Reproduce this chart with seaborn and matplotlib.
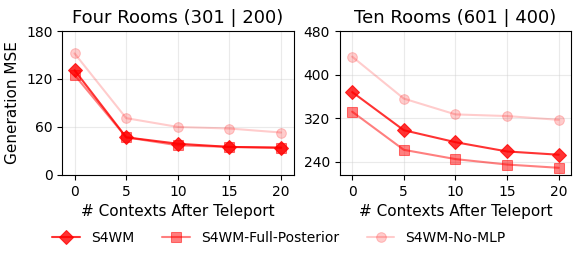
import numpy as np
import pandas as pd
import matplotlib
matplotlib.use("Agg")
import matplotlib.pyplot as plt
import seaborn as sns

contexts = [0, 5, 10, 15, 20]
methods = ["S4WM", "S4WM-Full-Posterior", "S4WM-No-MLP"]

four_s4wm = [131, 47, 39, 35, 34]
four_full = [125, 47, 37, 35, 34]
four_nomlp = [152, 71, 60, 58, 53]

ten_s4wm = [368, 298, 276, 259, 253]
ten_full = [332, 262, 245, 235, 229]
ten_nomlp = [433, 356, 327, 324, 317]

markers = {"S4WM": "D", "S4WM-Full-Posterior": "s", "S4WM-No-MLP": "o"}
alphas = {"S4WM": 0.8, "S4WM-Full-Posterior": 0.5, "S4WM-No-MLP": 0.2}

def to_df(vals):
    rows = []
    for m, v in zip(methods, vals):
        for c, y in zip(contexts, v):
            rows.append({"ctx": c, "mse": y, "method": m})
    return pd.DataFrame(rows)

sns.set_style("ticks", {"axes.edgecolor": "black", "xtick.color": "black",
                        "ytick.color": "black", "text.color": "black",
                        "axes.labelcolor": "black"})
plt.rcParams["font.family"] = ["DejaVu Sans"]

fig, axes = plt.subplots(1, 2, figsize=(5.81, 2.63), dpi=100)
panels = [
    ("Four Rooms (301 | 200)", to_df([four_s4wm, four_full, four_nomlp]), (0, 180), [0, 60, 120, 180]),
    ("Ten Rooms (601 | 400)", to_df([ten_s4wm, ten_full, ten_nomlp]), (216, 480), [240, 320, 400, 480]),
]

for ax, (title, df, ylim, yticks) in zip(axes, panels):
    for m in methods:
        sub = df[df.method == m]
        sns.lineplot(data=sub, x="ctx", y="mse", ax=ax, color="red", alpha=alphas[m],
                     marker=markers[m], markersize=7, markeredgecolor="red",
                     linewidth=1.5, label=m, legend=False)
    ax.set_title(title, fontsize=13)
    ax.set_ylim(*ylim)
    ax.set_yticks(yticks)
    ax.set_xticks(contexts)
    ax.set_xlim(-1.2, 21.2)
    ax.set_xlabel("# Contexts After Teleport", fontsize=11)
    ax.set_ylabel("")
    ax.grid(True, alpha=0.4)
    ax.tick_params(labelsize=10)

axes[0].set_ylabel("Generation MSE", fontsize=11)

handles, labels = axes[0].get_legend_handles_labels()
fig.legend(handles, labels, loc="lower center", ncol=3, frameon=False, fontsize=10,
           bbox_to_anchor=(0.48, 0.02), columnspacing=2.0)

fig.subplots_adjust(left=0.107, right=0.983, top=0.882, bottom=0.335, wspace=0.2)
fig.savefig("out.png", dpi=100)
